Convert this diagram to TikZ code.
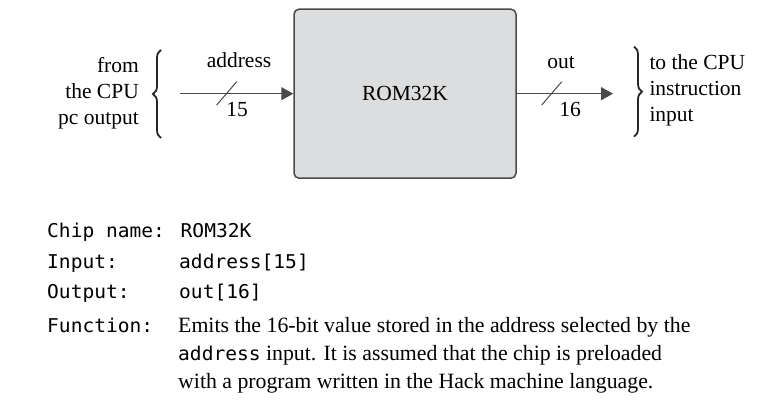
\documentclass[tikz,border=0pt]{standalone}
\usepackage{fontspec}
\setmainfont{Liberation Serif}
\newfontfamily\monof[FakeStretch=1.03]{DejaVu Sans Mono}
\usetikzlibrary{decorations.pathreplacing,arrows.meta}
\definecolor{boxfill}{HTML}{DCDDDF}
\definecolor{linegray}{HTML}{4A4A4A}
\newcommand{\inlinemono}[1]{{\fontsize{19}{28}\selectfont\monof #1}}
\tikzset{
  lbl/.style={inner sep=0pt, font=\fontsize{21.5}{26.3}\selectfont},
  desc/.style={inner sep=0pt, font=\fontsize{21.8}{28}\selectfont},
  mono/.style={inner sep=0pt, font=\fontsize{19}{22}\selectfont\monof},
  wire/.style={draw=linegray, line width=1.3pt, -{Triangle[length=12pt,width=13pt]}},
  slash/.style={draw=linegray, line width=1pt},
  bracestyle/.style={draw=black!85, line width=1.8pt, decorate, decoration={brace, amplitude=8pt}},
}
\begin{document}
\begin{tikzpicture}[x=1pt,y=-1pt]
\useasboundingbox (0,0) rectangle (759,403);
% chip
\node[draw=linegray, fill=boxfill, line width=1.5pt, rounded corners=5pt,
      minimum width=222pt, minimum height=169pt, inner sep=0pt] (rom) at (405,93.7) {};
\node[lbl, anchor=base] (romname) at (405,100.5) {ROM32K};
% input
\coordinate (inS) at (180,93.7);
\draw[wire] (inS) -- (rom.west |- inS);
\coordinate (s1a) at (216.7,105);
\coordinate (s1b) at (236.7,81.7);
\draw[slash] (s1a) -- (s1b);
\node[lbl, anchor=base] (addr) at (239,67.7) {address};
\node[lbl, anchor=base] (w15) at (237,116.7) {15};
% output
\coordinate (outE) at (613,93.7);
\draw[wire] (rom.east |- outE) -- (outE);
\coordinate (s2a) at (541.7,105);
\coordinate (s2b) at (561.7,81.7);
\draw[slash] (s2a) -- (s2b);
\node[lbl, anchor=base] (outl) at (561,68.3) {out};
\node[lbl, anchor=base] (w16) at (570,117) {16};
% braces
\coordinate (lb1) at (161,138);
\coordinate (lb2) at (161,50);
\draw[bracestyle] (lb1) -- (lb2);
\coordinate (rb1) at (634,46.7);
\coordinate (rb2) at (634,136.7);
\draw[bracestyle] (rb1) -- (rb2);
\node[lbl, anchor=base east, align=right] (src) at (139,125) {from\\the CPU\\pc output};
\node[lbl, anchor=base west, align=left] (dst) at (649.3,121.7) {to the CPU\\instruction\\input};
% spec
\node[mono, anchor=base west] (chipname) at (47,237) {Chip name: ROM32K};
\node[mono, anchor=base west] (inlbl) at (47,268.5) {Input:};
\node[mono, anchor=base west] (inval) at (179,268.5) {address[15]};
\node[mono, anchor=base west] (outlbl) at (47,298.5) {Output:};
\node[mono, anchor=base west] (outval) at (179,298.5) {out[16]};
\node[mono, anchor=base west] (fnlbl) at (47,332.5) {Function:};
\node[desc, anchor=base west, align=left] (fnval) at (178,388.5) {Emits the 16-bit value stored in the address selected by the\\\inlinemono{address} input. It is assumed that the chip is preloaded\\with a program written in the Hack machine language.};
\end{tikzpicture}
\end{document}
